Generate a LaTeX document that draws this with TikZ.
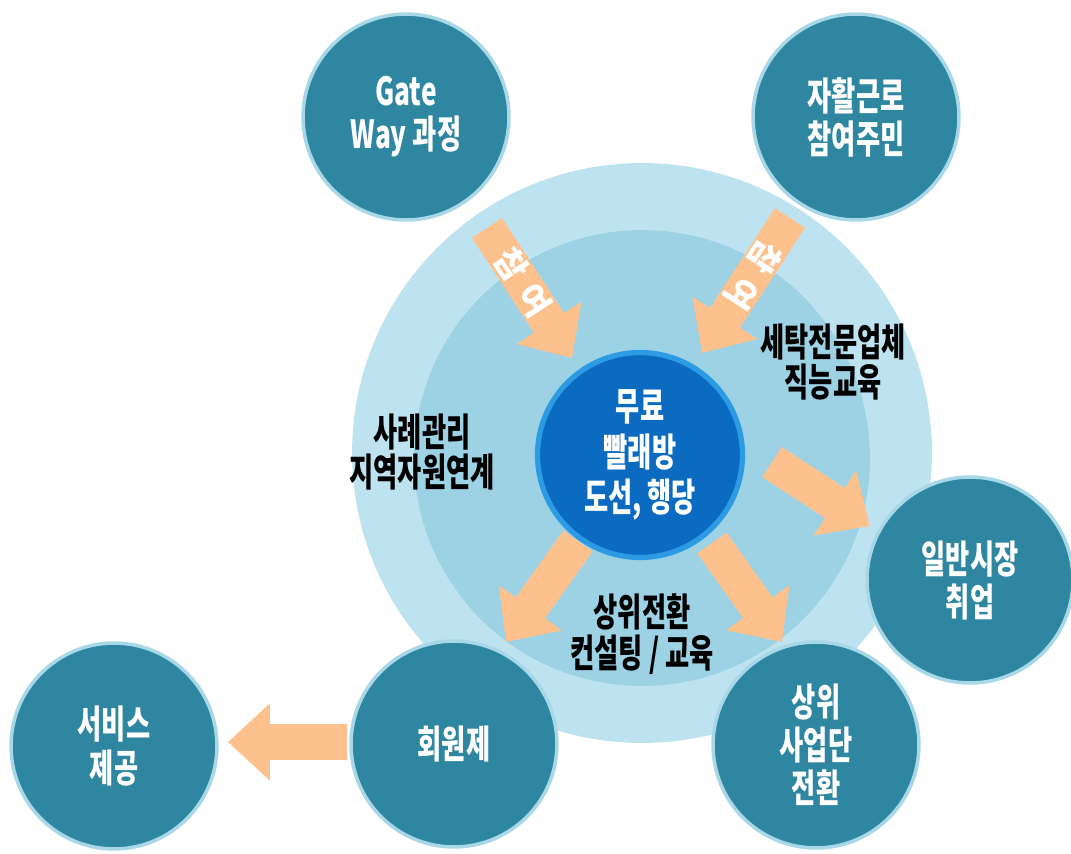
\documentclass[tikz,border=0pt]{standalone}
\usepackage{fontspec}
\newfontfamily\krfont{Noto Sans CJK KR}[FakeStretch=0.68]
\newfontfamily\krwide{Noto Sans CJK KR}
\usepackage{tikz}
\usetikzlibrary{arrows.meta}
\definecolor{tealc}{HTML}{2E86A1}
\definecolor{tealrim}{HTML}{A8D8E8}
\definecolor{ringout}{HTML}{BEE3F0}
\definecolor{ringmid}{HTML}{9DD1E4}
\definecolor{hubblue}{HTML}{0A6BC1}
\definecolor{hubrim}{HTML}{2C9BE3}
\definecolor{peach}{HTML}{FDC18D}
\tikzstyle{goal} = [circle, fill=tealc, draw=tealrim, line width=2pt,
    minimum size=4.12cm, inner sep=0pt, text=white, align=center,
    font=\krfont\bfseries\fontsize{22pt}{24.5pt}\selectfont]
\tikzstyle{hub} = [circle, fill=hubblue, draw=hubrim, line width=3pt,
    minimum size=4.1cm, inner sep=0pt, text=white, align=center,
    font=\krfont\bfseries\fontsize{22pt}{26pt}\selectfont]
\tikzstyle{ring} = [circle, inner sep=0pt]
\tikzstyle{note} = [align=center, text=black,
    font=\krfont\bfseries\fontsize{22pt}{23pt}\selectfont]
\tikzstyle{fat} = [draw=peach, line width=0.72cm,
    -{Triangle[width=1.5cm,length=0.84cm]}]
\tikzstyle{tag} = [sloped, text=white, inner sep=0pt,
    font=\krwide\bfseries\fontsize{19pt}{20pt}\selectfont]

\begin{document}
\begin{tikzpicture}[x=0.02cm,y=-0.02cm]
    \useasboundingbox (0,0) rectangle (1071,853);

    % rings
    \node[ring, fill=ringout, minimum size=11.6cm] (outer) at (642,453) {};
    \node[ring, fill=ringmid, minimum size=9.12cm] (middle) at (642,458) {};

    \node[hub] (hub) at (640,455) {무료\\빨래방\\도선, 행당};

    \node[goal] (gate) at (406,117) {Gate\\Way 과정};
    \node[goal] (selfwork) at (856,117) {자활근로\\참여주민};
    \node[goal] (market) at (970,580) {일반시장\\취업};
    \node[goal] (bizunit) at (816,745) {상위\\사업단\\전환};
    \node[goal] (member) at (454,744) {회원제};
    \node[goal] (service) at (114,746) {서비스\\제공};

    \node[note] (casework) at (422,452) {사례관리\\지역자원연계};
    \node[note] (training) at (833,362) {세탁전문업체\\직능교육};
    \node[note] (consult) at (642,634) {상위전환\\컨설팅 / 교육};

    % arrow ends
    \coordinate (gate-out) at (487,228);
    \coordinate (hub-in1) at (572,358);
    \coordinate (self-out) at (790,218);
    \coordinate (hub-in2) at (702,353);
    \coordinate (hub-out1) at (772,462);
    \coordinate (market-in) at (870,526);
    \coordinate (hub-out2) at (578,541);
    \coordinate (member-in) at (506,642);
    \coordinate (hub-out3) at (712,543);
    \coordinate (bizunit-in) at (782,642);
    \coordinate (member-out) at (347,742);
    \coordinate (service-in) at (228,742);

    \draw[fat] (gate-out) -- node[tag, pos=0.42] {참\hspace{7pt}여} (hub-in1);
    \draw[fat] (self-out) -- node[tag, allow upside down, pos=0.42] {참\hspace{7pt}여} (hub-in2);
    \draw[fat] (hub-out1) -- (market-in);
    \draw[fat] (hub-out2) -- (member-in);
    \draw[fat] (hub-out3) -- (bizunit-in);
    \draw[fat] (member-out) -- (service-in);
\end{tikzpicture}
\end{document}
